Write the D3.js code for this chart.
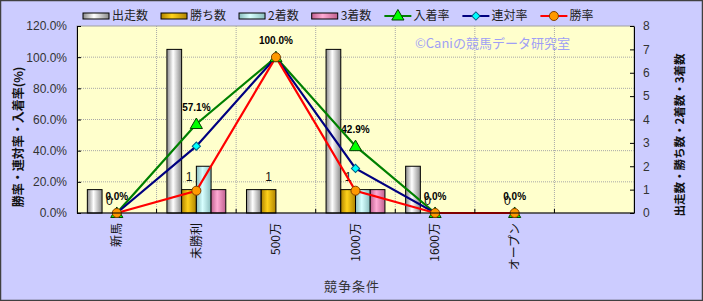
<!DOCTYPE html>
<html>
<head>
<meta charset="utf-8">
<script src="https://cdn.jsdelivr.net/npm/d3@7"></script>
<style>
  body { margin: 0; background: #fff; }
  svg { display: block; }
</style>
</head>
<body>
<svg id="chart" width="703" height="301"></svg>
<script>
// chart data
const categories = ['新馬', '未勝利', '500万', '1000万', '1600万', 'オープン', ''];
const starts  = [1, 7, 1, 7, 2, 0, null];   // 出走数
const wins    = [0, 1, 1, 1, 0, 0, null];   // 勝ち数
const seconds = [0, 2, 0, 1, 0, 0, null];   // 2着数
const thirds  = [0, 1, 0, 1, 0, 0, null];   // 3着数
const placeRate    = [0, 57.1, 100, 42.9, 0, 0, null]; // 入着率
const quinellaRate = [0, 42.9, 100, 28.6, 0, 0, null]; // 連対率
const winRate      = [0, 14.3, 100, 14.3, 0, 0, null]; // 勝率
const leftTicks  = [0, 20, 40, 60, 80, 100, 120];
const rightTicks = [0, 1, 2, 3, 4, 5, 6, 7, 8];

const barSeries = [
  { key: 'starts',  name: '出走数', values: starts,  dark: '#8a8a8a', light: '#ffffff' },
  { key: 'wins',    name: '勝ち数', values: wins,    dark: '#b08400', light: '#ffd21a' },
  { key: 'seconds', name: '2着数',  values: seconds, dark: '#88bcbc', light: '#d8ffff' },
  { key: 'thirds',  name: '3着数',  values: thirds,  dark: '#c0608f', light: '#ffaad4' }
];
const lineSeries = [
  { key: 'place',    name: '入着率', values: placeRate,    color: '#008000', marker: 'triangle', fill: '#00ff00', stroke: '#004000' },
  { key: 'quinella', name: '連対率', values: quinellaRate, color: '#000080', marker: 'diamond',  fill: '#00ffff', stroke: '#006080' },
  { key: 'win',      name: '勝率',   values: winRate,      color: '#ff0000', marker: 'circle',   fill: '#ff9900', stroke: '#804000' }
];

const W = 703, H = 301;
const plot = { l: 77, r: 634, t: 26, b: 213 };
const jp = "'Noto Sans CJK JP', 'Noto Sans', sans-serif";
const num = "'Liberation Sans', Arial, sans-serif";

const svg = d3.select('#chart');

// gradients for the cylinder-ish bars
const defs = svg.append('defs');
barSeries.forEach(s => {
  const g = defs.append('linearGradient').attr('id', 'grad-' + s.key)
    .attr('x1', '0%').attr('x2', '100%').attr('y1', '0%').attr('y2', '0%');
  g.append('stop').attr('offset', '0%').attr('stop-color', s.dark);
  g.append('stop').attr('offset', '42%').attr('stop-color', s.light);
  g.append('stop').attr('offset', '100%').attr('stop-color', s.dark);
});

// background + border
svg.append('rect').attr('x', 0.5).attr('y', 0.5).attr('width', W - 1).attr('height', H - 1)
  .attr('fill', '#ccccff').attr('stroke', '#404040').attr('stroke-width', 1.5);

svg.append('rect').attr('x', plot.l).attr('y', plot.t)
  .attr('width', plot.r - plot.l).attr('height', plot.b - plot.t)
  .attr('fill', '#ffffcc').attr('stroke', '#a0a0a0');

const x = d3.scaleBand().domain(d3.range(categories.length))
  .range([plot.l, plot.r]).paddingInner(0.26).paddingOuter(0.13);
const xs = d3.scaleBand().domain(barSeries.map(s => s.key)).range([0, x.bandwidth()]);
const cx = i => x(i) + x.bandwidth() / 2;
const yL = d3.scaleLinear().domain([0, 120]).range([plot.b, plot.t]);
const yR = d3.scaleLinear().domain([0, 8]).range([plot.b, plot.t]);

// grid lines
const bounds = d3.range(1, categories.length).map(i => plot.l + i * x.step());
svg.append('g').selectAll('line').data(leftTicks.filter(d => d > 0 && d < 120)).join('line')
  .attr('x1', plot.l).attr('x2', plot.r)
  .attr('y1', d => yL(d)).attr('y2', d => yL(d))
  .attr('stroke', '#a8a8a8').attr('stroke-dasharray', '1,1');
svg.append('g').selectAll('line').data(bounds).join('line')
  .attr('x1', d => d).attr('x2', d => d)
  .attr('y1', plot.t).attr('y2', plot.b)
  .attr('stroke', '#a8a8a8').attr('stroke-dasharray', '1,1');

// bars
const barData = [];
categories.forEach((c, i) => {
  barSeries.forEach(s => {
    const v = s.values[i];
    if (v != null && v > 0) barData.push({ i, s, v });
  });
});
svg.append('g').selectAll('rect').data(barData).join('rect')
  .attr('x', d => x(d.i) + xs(d.s.key))
  .attr('y', d => yR(d.v))
  .attr('width', xs.bandwidth())
  .attr('height', d => yR(0) - yR(d.v))
  .attr('fill', d => 'url(#grad-' + d.s.key + ')')
  .attr('stroke', '#000').attr('stroke-width', 1);

// labels on 勝ち数 bars
svg.append('g').selectAll('text').data(wins.map((v, i) => ({ v, i })).filter(d => d.v != null)).join('text')
  .attr('x', d => x(d.i) + xs('wins') + xs.bandwidth() / 2)
  .attr('y', d => yR(d.v) - 8.5)
  .attr('text-anchor', 'middle')
  .attr('font-family', num).attr('font-size', 12).attr('fill', '#111')
  .text(d => d.v);

// labels on 入着率 points
svg.append('g').selectAll('text').data(placeRate.map((v, i) => ({ v, i })).filter(d => d.v != null)).join('text')
  .attr('x', d => cx(d.i))
  .attr('y', d => yL(d.v) - 13)
  .attr('text-anchor', 'middle')
  .attr('font-family', num).attr('font-size', 10).attr('font-weight', 'bold').attr('fill', '#000')
  .text(d => d.v.toFixed(1) + '%');

// lines
const line = d3.line().defined(d => d.v != null).x(d => cx(d.i)).y(d => yL(d.v));
lineSeries.forEach(s => {
  svg.append('path')
    .datum(s.values.map((v, i) => ({ v, i })))
    .attr('d', line)
    .attr('fill', 'none').attr('stroke', s.color).attr('stroke-width', 2.2);
});

// markers
const markerPath = type => {
  if (type === 'triangle') return d3.symbol(d3.symbolTriangle, 64)();
  if (type === 'diamond') return d3.symbol(d3.symbolSquare, 34)();
  return d3.symbol(d3.symbolCircle, 64)();
};
lineSeries.forEach(s => {
  svg.append('g').selectAll('path')
    .data(s.values.map((v, i) => ({ v, i })).filter(d => d.v != null)).join('path')
    .attr('d', markerPath(s.marker))
    .attr('transform', d => `translate(${cx(d.i)},${yL(d.v) + (s.marker === 'triangle' ? 1 : 0)})` + (s.marker === 'diamond' ? ' rotate(45)' : ''))
    .attr('fill', s.fill).attr('stroke', s.stroke).attr('stroke-width', 1);
});

// axes
const axL = svg.append('g').attr('transform', `translate(${plot.l},0)`)
  .call(d3.axisLeft(yL).tickValues(leftTicks).tickFormat(d => d.toFixed(1) + '%')
    .tickSizeInner(-4).tickSizeOuter(0).tickPadding(10));
const axR = svg.append('g').attr('transform', `translate(${plot.r},0)`)
  .call(d3.axisRight(yR).tickValues(rightTicks).tickFormat(d3.format('d'))
    .tickSizeInner(-4).tickSizeOuter(0).tickPadding(9));
[axL, axR].forEach(a => {
  a.select('.domain').attr('stroke', '#000');
  a.selectAll('.tick line').attr('stroke', '#000');
  a.selectAll('.tick text').attr('font-family', num).attr('font-size', 12).attr('fill', '#333');
});

// category axis
svg.append('line').attr('x1', plot.l).attr('x2', plot.r).attr('y1', plot.b).attr('y2', plot.b)
  .attr('stroke', '#000');
svg.append('g').selectAll('line').data(bounds).join('line')
  .attr('x1', d => d).attr('x2', d => d).attr('y1', plot.b).attr('y2', plot.b - 4)
  .attr('stroke', '#000');
svg.append('g').selectAll('text').data(categories.map((c, i) => ({ c, i }))).join('text')
  .attr('transform', d => `translate(${cx(d.i)},${plot.b + 10}) rotate(-90)`)
  .attr('dy', '0.35em')
  .attr('text-anchor', 'end')
  .attr('font-family', jp).attr('font-size', 12).attr('fill', '#111')
  .text(d => d.c);

// axis titles
svg.append('text').attr('x', 352).attr('y', 291).attr('text-anchor', 'middle')
  .attr('font-family', jp).attr('font-size', 13).attr('letter-spacing', 1).attr('fill', '#333')
  .text('競争条件');
svg.append('text').attr('transform', 'translate(17,137) rotate(-90)')
  .attr('text-anchor', 'middle').attr('dominant-baseline', 'central')
  .attr('font-family', jp).attr('font-size', 12).attr('font-weight', 'bold').attr('fill', '#111')
  .text('勝率・連対率・入着率(%)');
svg.append('text').attr('transform', 'translate(679,135) rotate(-90)')
  .attr('text-anchor', 'middle').attr('dominant-baseline', 'central')
  .attr('font-family', jp).attr('font-size', 11.5).attr('font-weight', 'bold').attr('fill', '#111')
  .text('出走数・勝ち数・2着数・3着数');

// watermark
svg.append('text').attr('x', 415).attr('y', 48)
  .attr('font-family', jp).attr('font-size', 13).attr('fill', '#9f9ff5')
  .text('©Caniの競馬データ研究室');

// legend
const legend = svg.append('g').attr('transform', 'translate(83,16)');
let lx = 0;
const legendItems = barSeries.map(s => ({ type: 'bar', s })).concat(lineSeries.map(s => ({ type: 'line', s })));
legendItems.forEach(item => {
  const g = legend.append('g').attr('transform', `translate(${lx},0)`);
  if (item.type === 'bar') {
    g.append('rect').attr('x', 0).attr('y', -3).attr('width', 26).attr('height', 6)
      .attr('fill', 'url(#grad-' + item.s.key + ')').attr('stroke', '#000');
  } else {
    g.append('line').attr('x1', 0).attr('x2', 27).attr('y1', 0).attr('y2', 0)
      .attr('stroke', item.s.color).attr('stroke-width', 2);
    g.append('path').attr('d', markerPath(item.s.marker))
      .attr('transform', `translate(13.5,${item.s.marker === 'triangle' ? 0.5 : 0})` + (item.s.marker === 'diamond' ? ' rotate(45)' : ''))
      .attr('fill', item.s.fill).attr('stroke', item.s.stroke);
  }
  const t = g.append('text').attr('x', 29).attr('y', 0).attr('dy', '0.35em')
    .attr('font-family', jp).attr('font-size', 12).attr('fill', '#222')
    .text(item.s.name);
  lx += 29 + t.node().getComputedTextLength() + 13;
});
</script>
</body>
</html>
